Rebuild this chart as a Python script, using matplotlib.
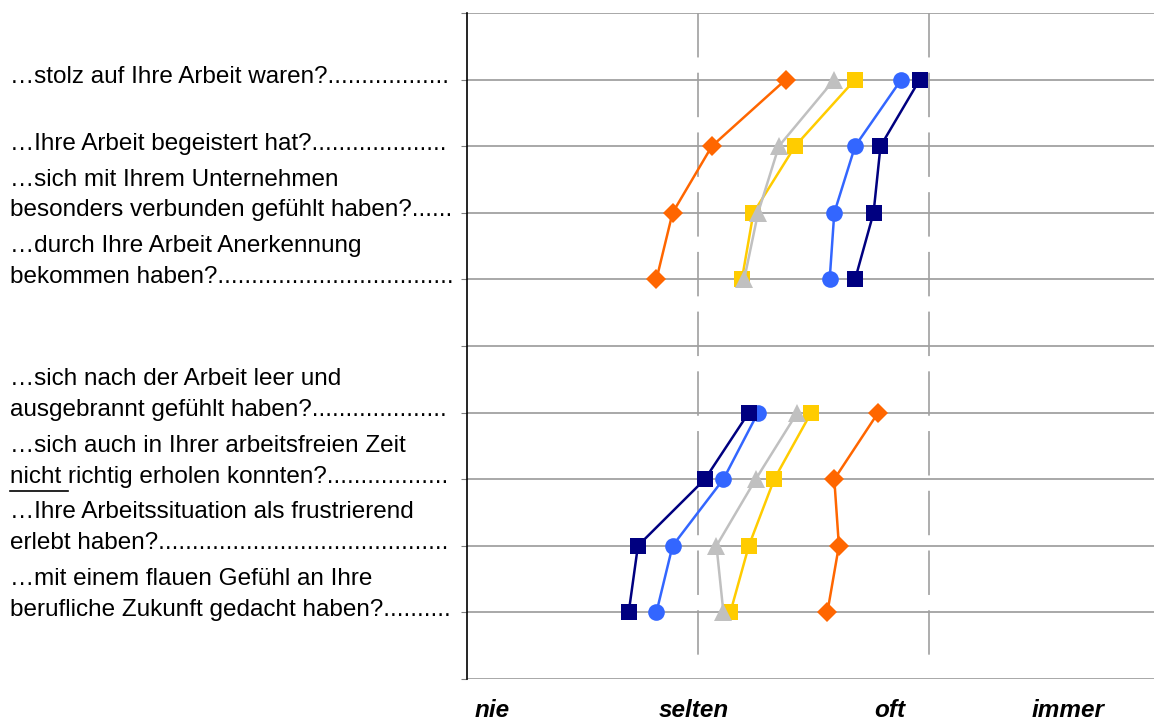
import numpy as np
import matplotlib
matplotlib.use("Agg")
import matplotlib.pyplot as plt
from matplotlib.transforms import blended_transform_factory
from matplotlib.lines import Line2D

plt.rcParams['font.family'] = ['Liberation Sans', 'DejaVu Sans']
plt.rcParams['lines.scale_dashes'] = False

# row positions (5 is the empty gap between the two blocks)
rows = [1, 2, 3, 4, 5, 6, 7, 8, 9]

questions = [
    ["…stolz auf Ihre Arbeit waren?.................."],
    ["…Ihre Arbeit begeistert hat?...................."],
    ["…sich mit Ihrem Unternehmen", "besonders verbunden gefühlt haben?......"],
    ["…durch Ihre Arbeit Anerkennung", "bekommen haben?..................................."],
    None,
    ["…sich nach der Arbeit leer und", "ausgebrannt gefühlt haben?...................."],
    ["…sich auch in Ihrer arbeitsfreien Zeit", "nicht richtig erholen konnten?.................."],
    ["…Ihre Arbeitssituation als frustrierend", "erlebt haben?..........................................."],
    ["…mit einem flauen Gefühl an Ihre", "berufliche Zukunft gedacht haben?.........."],
]

scale_labels = ["nie", "selten", "oft", "immer"]
scale_label_x = [1.11, 1.98, 2.83, 3.60]

nan = np.nan
orange = [2.38, 2.06, 1.89, 1.82, nan, 2.78, 2.59, 2.61, 2.56]
yellow = [2.68, 2.42, 2.24, 2.19, nan, 2.49, 2.33, 2.22, 2.14]
grey = [2.59, 2.35, 2.26, 2.20, nan, 2.43, 2.25, 2.08, 2.11]
blue = [2.88, 2.68, 2.59, 2.57, nan, 2.26, 2.11, 1.89, 1.82]
navy = [2.96, 2.79, 2.76, 2.68, nan, 2.22, 2.03, 1.74, 1.70]

fig = plt.figure(figsize=(11.54, 7.2), dpi=100)
ax = fig.add_axes([467 / 1154, 1 - 679 / 720, 1 - 467 / 1154, 666 / 720])

ax.set_xlim(1, 1 + 687 / 231)
ax.set_ylim(10, 0)

# horizontal grid and the two dashed reference lines (drawn top-down)
for y in range(0, 11):
    ax.axhline(y, color='#999999', lw=1.2, zorder=1)
for x in [2, 3]:
    ax.plot([x, x], [0, 9.85], color='#a0a0a0', lw=1.2,
            linestyle=(0, (32, 11)), zorder=1)

series = [
    (orange, 'D', '#ff6600', 10.5),
    (yellow, 's', '#ffcc00', 11.5),
    (grey, '^', '#c0c0c0', 13),
    (blue, 'o', '#3366ff', 12),
    (navy, 's', '#000080', 11.5),
]
for i, (vals, mk, col, ms) in enumerate(series):
    ax.plot(vals, rows, color=col, marker=mk, markersize=ms, lw=1.8,
            markeredgewidth=0, zorder=3 + i)

for s in ['top', 'right', 'bottom']:
    ax.spines[s].set_visible(False)
ax.spines['left'].set_color('black')
ax.spines['left'].set_linewidth(1.2)
ax.set_xticks([])
ax.set_yticks(range(0, 11))
ax.tick_params(axis='y', length=4, color='#808080', labelleft=False)

# question labels on the left
trans = blended_transform_factory(fig.transFigure, ax.transData)
fs = 17.5
x0 = 10 / 1154
fig.canvas.draw()
renderer = fig.canvas.get_renderer()
for r, q in zip(rows, questions):
    if q is None:
        continue
    ax.text(x0, r - 0.04, q[-1], transform=trans, ha='left', va='center',
            fontsize=fs, color='black', clip_on=False)
    if len(q) > 1:
        ax.text(x0, r - 0.50, q[0], transform=trans, ha='left', va='center',
                fontsize=fs, color='black', clip_on=False)
    if q[-1].startswith("nicht "):
        tmp = fig.text(0, 0, "nicht", fontsize=fs)
        w = tmp.get_window_extent(renderer).width
        tmp.remove()
        w += 0.278 * fs * 100 / 72
        y_px = ax.transData.transform((0, r + 0.17))[1]
        fig.add_artist(Line2D([10, 10 + w], [y_px, y_px], transform=None,
                              color='black', lw=1.2))

# scale labels under the plot
for x, lab in zip(scale_label_x, scale_labels):
    ax.text(x, 10.47, lab, ha='center', va='center', fontsize=17.5,
            fontweight='bold', fontstyle='italic', clip_on=False)

fig.savefig("out.png", dpi=100)
